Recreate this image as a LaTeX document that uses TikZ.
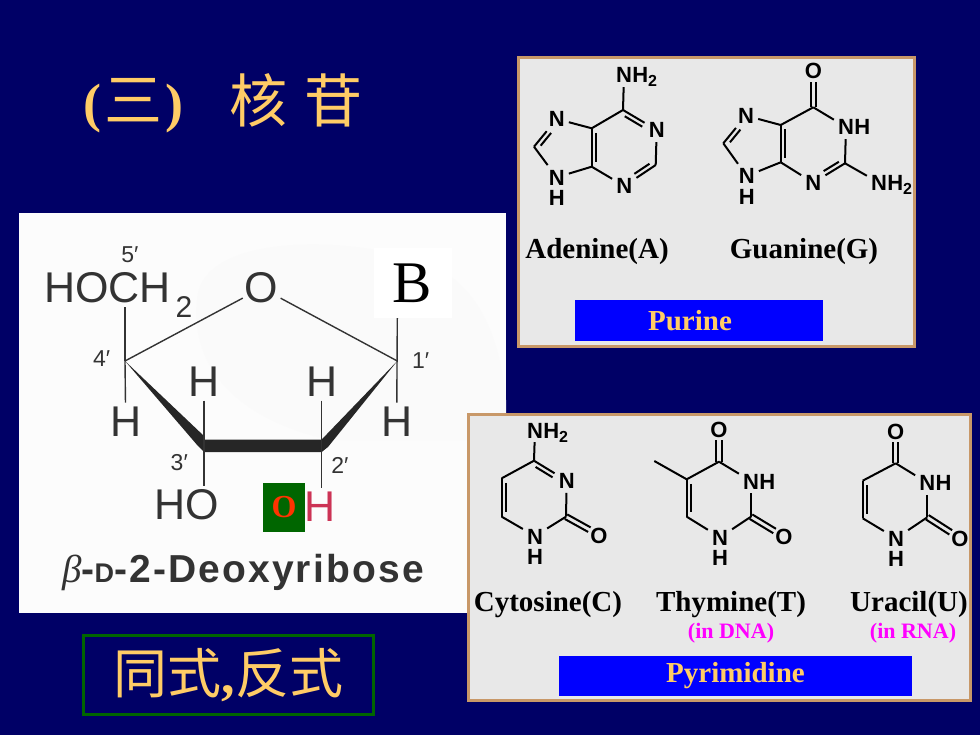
\documentclass[tikz,border=0pt]{standalone}
\usepackage{fontspec}
\setmainfont{Liberation Serif}
\setsansfont{Liberation Sans}
\newfontfamily\cjk{Noto Sans CJK SC}
\usepackage{tikz}
\usetikzlibrary{positioning}
\usetikzlibrary{calc}

\definecolor{slidenavy}{HTML}{000066}
\definecolor{slidegold}{HTML}{FFCC66}
\definecolor{panelgray}{HTML}{E8E8E8}
\definecolor{paneltan}{HTML}{C89868}
\definecolor{boxgreen}{HTML}{006600}
\definecolor{printink}{HTML}{333333}
\definecolor{printred}{HTML}{CC3355}
\definecolor{notepink}{HTML}{FF00FF}

\newcommand{\fsz}[1]{\fontsize{#1}{#1}\selectfont}
\newcommand{\subtwo}{\raisebox{-4pt}{\fsz{16}2}}
% second stroke of a ring double bond, on the left going from #1 to #2
\newcommand{\inbond}[4]{\draw [bond] ($(#1)!#3!(#2)!4.5pt!90:(#2)$) -- ($(#2)!#4!(#1)!4.5pt!-90:(#1)$);}
\newcommand{\oxobond}[2]{
  \draw [bond, shorten >=11pt] ($(#1)!2.6pt!90:(#2)$) -- ($(#2)!2.6pt!-90:(#1)$);
  \draw [bond, shorten >=11pt] ($(#1)!2.6pt!-90:(#2)$) -- ($(#2)!2.6pt!90:(#1)$);}

\tikzset{
  atom/.style={font=\sffamily\bfseries\fsz{22}, inner sep=4pt, text height=16pt, text depth=0pt},
  bond/.style={line width=2pt, black},
  print/.style={font=\sffamily\fsz{43}, text=printink, inner sep=4pt},
  primelabel/.style={font=\sffamily\fsz{23}, text=printink, inner sep=0pt},
  printbond/.style={line width=1.4pt, printink},
  basename/.style={font=\bfseries\fsz{29}, inner sep=0pt, text depth=0pt},
  dnanote/.style={font=\bfseries\fsz{22}, text=notepink, inner sep=0pt},
  classbox/.style={fill=blue, text=slidegold, font=\bfseries\fsz{29}, inner sep=0pt},
  panel/.style={fill=panelgray, draw=paneltan, line width=3pt}
}

\begin{document}
\begin{tikzpicture}[x=1pt,y=-1pt]
  \fill [slidenavy] (0,0) rectangle (980,735);

  % title
  \node [text=slidegold, inner sep=0pt] (title) at (133,106) {\bfseries\fsz{54}(\hspace{3pt}{\cjk\mdseries\fsz{58}三}\hspace{3pt})};
  \node [text=slidegold, inner sep=0pt] (nucleoside) at (296,100) {\cjk\fsz{58}核\hspace{17pt}苷};

  % sugar picture
  \fill [white!99!black] (19,213) rectangle (506,613);
  \fill [black!2] (197,300) .. controls (200,240) and (320,235) .. (400,255) .. controls (480,270) and (500,340) .. (506,400) -- (506,440) -- (330,440) .. controls (240,420) and (190,370) .. (197,300);
  \node [print] (hoch) at (107.5,288) {HOCH};
  \node [primelabel, font=\sffamily\fsz{30}] (sub2) at (184,307) {2};
  \node [print, inner sep=2pt] (ringo) at (261.7,288) {O};
  \node [fill=white, minimum width=78pt, minimum height=70pt, inner sep=0pt, font=\fsz{59}] (letterb) at (412.5,283) {B};
  \coordinate (c4) at (125,361);
  \coordinate (c3) at (204,445);
  \coordinate (c2) at (321.7,445);
  \coordinate (c1) at (397.3,361);
  \node [print] (h4) at (125.7,421.7) {H};
  \node [print] (h3) at (204,381.7) {H};
  \node [print] (h2) at (321.7,381.7) {H};
  \node [print] (h1) at (396.7,421.7) {H};
  \node [print] (ho) at (186.7,505) {HO};
  \node [print, text=printred] (redh) at (320,506.7) {H};
  \node [fill=boxgreen, text=red!80!yellow, minimum width=42pt, minimum height=49pt, inner sep=0pt, font=\bfseries\fsz{32}] (greeno) at (284,507) {O};
  \fill [black!85] (c4) -- (204,436) -- (204,439.5) -- (321.7,439.5) -- (c1) -- (328,447) -- (321.7,452) -- (204,452) -- (198,446) -- cycle;
  \draw [printbond] (hoch.south -| c4) -- (c4);
  \draw [printbond] (c4) -- (h4);
  \draw [printbond] (c4) -- (ringo);
  \draw [printbond] (c1) -- (ringo);
  \draw [printbond] (letterb.south -| c1) -- (h1);
  \draw [printbond] (h3) -- (c3);
  \draw [printbond] (h2) -- (c2);
  \draw [printbond] (c3) -- (c3 |- ho.north);
  \draw [printbond] (c2) -- (c2 |- redh.north);
  \node [primelabel] (p5) at (130,255) {5′};
  \node [primelabel] (p4) at (101.7,359) {4′};
  \node [primelabel] (p1) at (420.7,361) {1′};
  \node [primelabel] (p3) at (179.3,463) {3′};
  \node [primelabel] (p2) at (340,465) {2′};
  \node [font=\sffamily\bfseries\fsz{39}, text=printink, inner sep=0pt] (sugarname) at (243,573) {{\rmfamily\itshape\mdseries β}\addfontfeature{LetterSpace=5.5}-{\fsz{27}D}-2-Deoxyribose};

  % green box
  \node [draw=boxgreen, line width=3.5pt, minimum width=290pt, minimum height=79pt, inner sep=0pt, text=slidegold] (isomers) at (228.5,675) {\cjk\fsz{54}同式{\rmfamily\bfseries,}反式};

  % purines
  \draw [panel] (518.5,57.5) rectangle (914.5,346.5);
  \coordinate (ac6) at (623,110);
  \coordinate (ac2) at (655.7,165);
  \coordinate (ac4) at (591.7,166.7);
  \coordinate (ac5) at (591.7,128.3);
  \coordinate (ac8) at (534,146.7);
  \node [atom] (anh) at (624,75) {N};
  \node [atom, right=-8pt of anh] (anhh) {H\subtwo};
  \node [atom] (an1) at (656.7,130) {N};
  \node [atom] (an3) at (624.3,186) {N};
  \node [atom] (an7) at (556.7,119) {N};
  \node [atom] (an9) at (556.7,177.3) {N};
  \node [atom, below=-4pt of an9] (an9h) {H};
  \foreach \from/\to in {ac6/anh, ac6/an1, an1/ac2, ac2/an3, an3/ac4, ac4/ac5, ac5/ac6, ac5/an7, an7/ac8, ac8/an9, an9/ac4}
    \draw [bond] (\from) -- (\to);
  \inbond{an1}{ac6}{.36}{.12}
  \inbond{an3}{ac2}{.4}{.12}
  \inbond{ac5}{ac4}{.12}{.12}
  \inbond{an7}{ac8}{.4}{.14}

  \coordinate (gc6) at (813.3,107.3);
  \coordinate (gc2) at (845,163.3);
  \coordinate (gc4) at (780.7,162.3);
  \coordinate (gc5) at (780.7,125);
  \coordinate (gc8) at (723.3,143.3);
  \node [atom] (go) at (813.3,71) {O};
  \node [atom] (gn1) at (846,127) {N};
  \node [atom, right=-8pt of gn1] (gn1h) {H};
  \node [atom] (gn3) at (813.3,182.7) {N};
  \node [atom] (gn7) at (746,115.7) {N};
  \node [atom] (gn9) at (746.7,176) {N};
  \node [atom, below=-4pt of gn9] (gn9h) {H};
  \node [atom] (gnh) at (879,182.7) {N};
  \node [atom, right=-8pt of gnh] (gnhh) {H\subtwo};
  \foreach \from/\to in {gc6/gn1, gn1/gc2, gc2/gn3, gn3/gc4, gc4/gc5, gc5/gc6, gc5/gn7, gn7/gc8, gc8/gn9, gn9/gc4, gc2/gnh}
    \draw [bond] (\from) -- (\to);
  \oxobond{gc6}{go}
  \inbond{gn3}{gc2}{.4}{.12}
  \inbond{gc5}{gc4}{.12}{.12}
  \inbond{gn7}{gc8}{.4}{.14}

  \node [basename] (adenine) at (597,248) {Adenine(A)};
  \node [basename] (guanine) at (804,248) {Guanine(G)};
  \node [classbox, minimum width=248pt, minimum height=41pt] (purine) at (699,320.5) {Purine\kern18pt};

  % pyrimidines
  \draw [panel] (468.5,414.5) rectangle (970.5,700.5);
  \coordinate (cc4) at (534,460.7);
  \coordinate (cc2) at (566,516.7);
  \coordinate (cc6) at (501.7,516.7);
  \coordinate (cc5) at (501.7,478.3);
  \node [atom] (cnh) at (535,430) {N};
  \node [atom, right=-8pt of cnh] (cnhh) {H\subtwo};
  \node [atom] (cn3) at (566.7,480.7) {N};
  \node [atom] (co) at (599,535) {O};
  \node [atom] (cn1) at (535,536) {N};
  \node [atom, below=-4pt of cn1] (cn1h) {H};
  \foreach \from/\to in {cc4/cnh, cc4/cn3, cn3/cc2, cc2/cn1, cn1/cc6, cc6/cc5, cc5/cc4}
    \draw [bond] (\from) -- (\to);
  \oxobond{cc2}{co}
  \inbond{cn3}{cc4}{.36}{.12}
  \inbond{cc5}{cc6}{.12}{.12}

  \coordinate (tc4) at (719,461.7);
  \coordinate (tc2) at (751,516.7);
  \coordinate (tc6) at (686.7,516.7);
  \coordinate (tc5) at (686.7,479.3);
  \coordinate (tme) at (654.3,461);
  \node [atom] (to4) at (719,429.3) {O};
  \node [atom] (tn3) at (751,481) {N};
  \node [atom, right=-8pt of tn3] (tn3h) {H};
  \node [atom] (to2) at (784,536.7) {O};
  \node [atom] (tn1) at (720,537.3) {N};
  \node [atom, below=-4pt of tn1] (tn1h) {H};
  \foreach \from/\to in {tc4/tn3, tn3/tc2, tc2/tn1, tn1/tc6, tc6/tc5, tc5/tc4, tc5/tme}
    \draw [bond] (\from) -- (\to);
  \oxobond{tc4}{to4}
  \oxobond{tc2}{to2}
  \inbond{tc5}{tc6}{.12}{.12}

  \coordinate (uc4) at (895.7,463.3);
  \coordinate (uc2) at (927.3,517.3);
  \coordinate (uc6) at (862.7,518.3);
  \coordinate (uc5) at (862.7,480.7);
  \node [atom] (uo4) at (895.7,431) {O};
  \node [atom] (un3) at (927.3,482.7) {N};
  \node [atom, right=-8pt of un3] (un3h) {H};
  \node [atom] (uo2) at (960,538.3) {O};
  \node [atom] (un1) at (896,538.3) {N};
  \node [atom, below=-4pt of un1] (un1h) {H};
  \foreach \from/\to in {uc4/un3, un3/uc2, uc2/un1, un1/uc6, uc6/uc5, uc5/uc4}
    \draw [bond] (\from) -- (\to);
  \oxobond{uc4}{uo4}
  \oxobond{uc2}{uo2}
  \inbond{uc5}{uc6}{.12}{.12}

  \node [basename] (cytosine) at (548,601) {Cytosine(C)};
  \node [basename] (thymine) at (731,601) {Thymine(T)};
  \node [basename] (uracil) at (909,601) {Uracil(U)};
  \node [dnanote] (indna) at (731,633) {(in DNA)};
  \node [dnanote] (inrna) at (913,633) {(in RNA)};
  \node [classbox, minimum width=353pt, minimum height=40pt] (pyrimidine) at (735.5,676) {Pyrimidine};
\end{tikzpicture}
\end{document}
